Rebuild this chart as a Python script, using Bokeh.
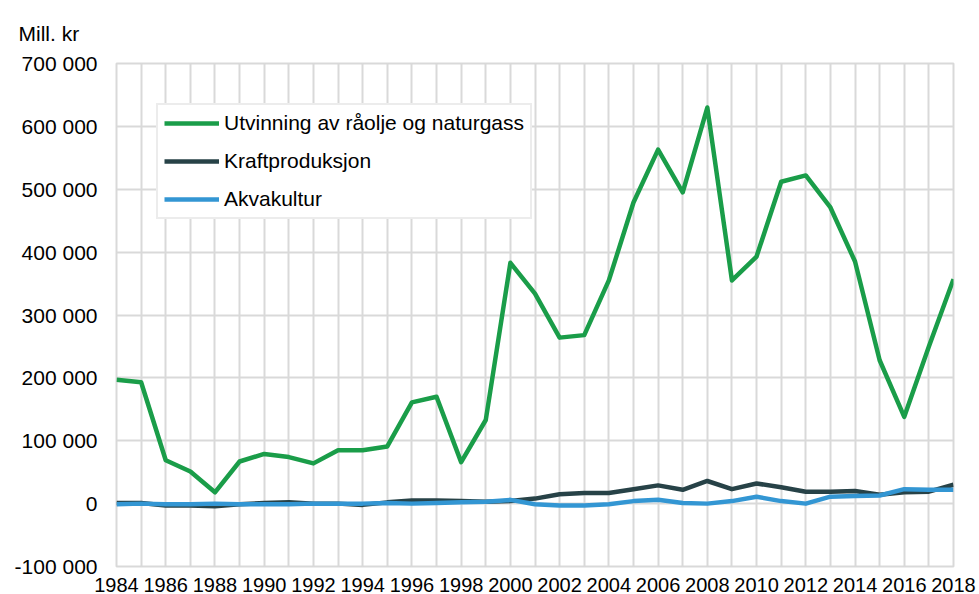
from bokeh.plotting import figure
from bokeh.models import Range1d, FixedTicker, CustomJSTickFormatter, Legend, LegendItem
from bokeh.embed import file_html
from bokeh.resources import INLINE

years = list(range(1984, 2019))
olje = [197000, 193000, 69000, 51000, 18000, 67000, 79000, 74000, 64000, 85000,
        85000, 91000, 161000, 170000, 66000, 133000, 383000, 334000, 264000, 268000,
        355000, 479000, 563000, 495000, 630000, 355000, 393000, 512000, 522000, 471000,
        385000, 228000, 138000, 250000, 357000]
kraft = [1000, 1000, -3000, -3000, -4000, -1000, 1000, 2000, 0, 0,
         -2000, 2000, 5000, 5000, 4000, 3000, 4000, 8000, 15000, 17000,
         17000, 23000, 29000, 22000, 36000, 23000, 32000, 26000, 19000, 19000,
         20000, 14000, 18000, 19000, 30000]
akva = [-1000, 0, -1000, -1000, 0, -1000, -1000, -1000, 0, 0,
        0, 1000, 0, 1000, 2000, 3000, 6000, -1000, -3000, -3000,
        -1000, 4000, 6000, 1000, 0, 4000, 11000, 4000, 0, 11000,
        12000, 13000, 23000, 22000, 22000]
names = ["Utvinning av råolje og naturgass", "Kraftproduksjon", "Akvakultur"]
colors = ["#1a9d49", "#274247", "#3396d3"]
y_ticks = [-100000, 0, 100000, 200000, 300000, 400000, 500000, 600000, 700000]
x_ticks = list(range(1984, 2019, 2))
unit_label = "Mill. kr"

FONT = "Liberation Sans"

p = figure(width=979, height=594, output_backend="svg", toolbar_location=None,
           x_range=Range1d(1984, 2018), y_range=Range1d(-100000, 700000),
           min_border_left=116, min_border_right=26, min_border_top=63, min_border_bottom=27)
p.background_fill_color = "white"
p.border_fill_color = "white"
p.outline_line_color = "#d9d9d9"
p.outline_line_width = 2

p.title.text = unit_label
p.title.align = "left"
p.title.vertical_align = "bottom"
p.title.offset = -98
p.title.standoff = 37
p.title.text_font = FONT
p.title.text_font_size = "21px"
p.title.text_font_style = "normal"
p.title.text_color = "black"

p.xaxis.ticker = FixedTicker(ticks=x_ticks)
p.yaxis.ticker = FixedTicker(ticks=y_ticks)
p.yaxis.formatter = CustomJSTickFormatter(code="""
return tick.toFixed(0).replace(/\\B(?=(\\d{3})+(?!\\d))/g, " ");
""")
for ax in (p.xaxis, p.yaxis):
    ax.axis_line_color = None
    ax.major_tick_line_color = None
    ax.minor_tick_line_color = None
    ax.major_tick_out = 0
    ax.major_tick_in = 0
    ax.minor_tick_out = 0
    ax.minor_tick_in = 0
    ax.major_label_text_font = FONT
    ax.major_label_text_color = "black"
p.xaxis.major_label_text_font_size = "20px"
p.yaxis.major_label_text_font_size = "21px"
p.xaxis.major_label_standoff = 11
p.yaxis.major_label_standoff = 19

p.xgrid.ticker = FixedTicker(ticks=years)
p.xgrid.grid_line_color = "#d9d9d9"
p.xgrid.grid_line_width = 2
p.ygrid.grid_line_color = "#d9d9d9"
p.ygrid.grid_line_width = 2

renderers = []
for data, c in zip([olje, kraft, akva], colors):
    r = p.line(years, data, line_color=c, line_width=4.5, line_join="round")
    renderers.append(r)

legend = Legend(items=[LegendItem(label=n, renderers=[r]) for n, r in zip(names, renderers)],
                location="top_left")
legend.label_text_font = FONT
legend.label_text_font_size = "21px"
legend.label_text_color = "black"
legend.glyph_width = 55
legend.glyph_height = 24
legend.label_height = 24
legend.spacing = 14
legend.padding = 6
legend.margin = 40
legend.label_standoff = 5
legend.border_line_color = "#d9d9d9"
legend.border_line_width = 2
legend.background_fill_color = "white"
legend.background_fill_alpha = 1
p.add_layout(legend, "center")

open("out.html", "w").write(file_html(p, INLINE))
